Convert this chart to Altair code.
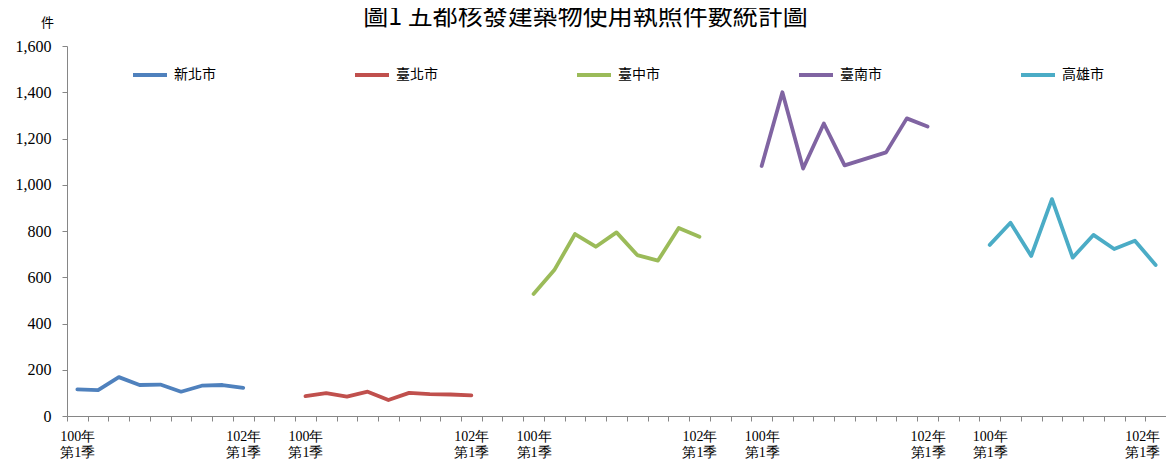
import altair as alt
import pandas as pd

cities = ["新北市", "臺北市", "臺中市", "臺南市", "高雄市"]
colors = ["#4F81BD", "#C0504D", "#9BBB59", "#8064A2", "#4BACC6"]
quarters = ["100年第1季", "100年第2季", "100年第3季", "100年第4季",
            "101年第1季", "101年第2季", "101年第3季", "101年第4季", "102年第1季"]
gap = 2  # blank categories between city groups

xinbei = [115, 112, 168, 134, 136, 105, 131, 134, 122]
taipei = [86, 99, 84, 105, 69, 100, 95, 93, 89]
taichung = [528, 631, 787, 732, 794, 696, 672, 813, 775]
tainan = [1081, 1400, 1070, 1265, 1084, 1112, 1140, 1287, 1252]
kaohsiung = [740, 836, 692, 938, 685, 783, 722, 758, 653]
series = [xinbei, taipei, taichung, tainan, kaohsiung]

rows = []
stride = len(quarters) + gap
for g, (city, vals) in enumerate(zip(cities, series)):
    for i, (q, v) in enumerate(zip(quarters, vals)):
        rows.append({"city": city, "quarter": q, "idx": g * stride + i, "value": v})
df = pd.DataFrame(rows)

n_cat = len(cities) * stride - gap
W, H = 1099, 370
band = W / n_cat
tick_vals = [i - 0.5 for i in range(n_cat + 1)]
first_idx = [g * stride for g in range(len(cities))]
last_idx = [g * stride + len(quarters) - 1 for g in range(len(cities))]
final_tick = n_cat - 1 - 0.5

first_cond = " || ".join(f"datum.value == {i - 0.5}" for i in first_idx)
last_cond = " || ".join(f"datum.value == {i - 0.5}" for i in last_idx)
label_expr = f"({first_cond}) ? ['100年', '第1季'] : (({last_cond}) ? ['102年', '第1季'] : '')"

serif = "Liberation Serif, Times New Roman, serif"
cjk = "Noto Sans CJK TC"

chart = alt.Chart(df).mark_line(strokeWidth=3.8, strokeCap="round", strokeJoin="round").encode(
    x=alt.X("idx:Q",
            scale=alt.Scale(domain=[-0.5, n_cat - 0.5], nice=False, zero=False),
            axis=alt.Axis(values=tick_vals, labelExpr=label_expr, title=None,
                          grid=False, tickSize=5,
                          labelOffset={"expr": f"datum.value == {final_tick} ? {band / 2 + 4} : {band / 2}"},
                          labelAlign={"expr": f"datum.value == {final_tick} ? 'right' : 'center'"},
                          labelOverlap=False, labelFlush=False, labelBound=False,
                          labelFont=serif, labelFontSize=14, labelColor="black",
                          labelLineHeight=16, labelPadding=8, labelBaseline="top",
                          domainColor="#868686", tickColor="#868686")),
    y=alt.Y("value:Q",
            scale=alt.Scale(domain=[0, 1600], nice=False),
            axis=alt.Axis(values=list(range(0, 1601, 200)), format=",d", grid=False,
                          tickSize=5, labelFont=serif, labelFontSize=16, labelColor="black",
                          labelPadding=11, domainColor="#868686", tickColor="#868686",
                          title="件", titleAngle=0, titleX=-20, titleY=-24,
                          titleAlign="center", titleBaseline="middle",
                          titleFont=cjk, titleFontSize=13, titleFontWeight="normal",
                          titleColor="black")),
    color=alt.Color("city:N",
                    scale=alt.Scale(domain=cities, range=colors),
                    legend=alt.Legend(title=None, orient="none", legendX=64, legendY=10,
                                      direction="horizontal", columns=5,
                                      symbolType="stroke", symbolSize=1156,
                                      symbolStrokeWidth=4, labelOffset=5,
                                      labelFont=cjk, labelFontSize=14, labelColor="black",
                                      columnPadding=131, padding=0)),
    detail="city:N",
).properties(
    width=W, height=H,
    title=alt.TitleParams("圖1 五都核發建築物使用執照件數統計圖", font=cjk, fontSize=25,
                          fontWeight="normal", color="black", anchor="middle",
                          dx=-31, offset=-14),
    autosize=alt.AutoSizeParams(type="none"),
    padding={"left": 59, "top": 38, "right": 0, "bottom": 43},
).configure_view(stroke=None)

chart.save("out.html", embed_options={"renderer": "svg", "actions": False})
